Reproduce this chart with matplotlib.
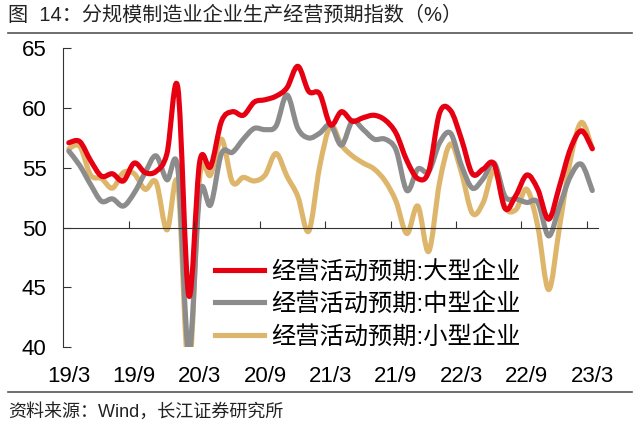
import numpy as np
import matplotlib.pyplot as plt
from matplotlib.path import Path
from matplotlib.patches import PathPatch
from matplotlib.lines import Line2D

plt.rcParams['font.family'] = ['Liberation Sans', 'Noto Sans CJK SC']

tick_labels = ['19/3', '19/9', '20/3', '20/9', '21/3', '21/9', '22/3', '22/9', '23/3']

large = [57.1, 57.2, 55.6, 54.3, 54.5, 53.9, 55.4, 54.6, 54.7, 56.2,
         61.7, 44.3, 55.5, 55.1, 58.9, 59.7, 59.4, 60.5, 60.7, 61.0,
         61.7, 63.5, 61.4, 61.2, 58.6, 59.7, 58.9, 59.2, 59.4, 59.0,
         57.9, 55.6, 54.1, 54.7, 59.6, 59.8, 57.4, 54.5, 54.9, 55.3,
         51.6, 52.7, 54.4, 53.2, 50.7, 53.5, 56.6, 58.1, 56.6]
medium = [56.4, 55.2, 53.6, 52.2, 52.4, 51.8, 52.9, 54.6, 56.0, 54.0,
          54.9, 39.5, 52.8, 51.9, 56.2, 56.3, 57.4, 58.3, 58.2, 58.5,
          61.1, 58.3, 57.5, 57.9, 58.6, 56.9, 58.9, 58.2, 57.4, 57.4,
          56.5, 53.1, 54.9, 54.7, 57.1, 57.9, 55.2, 53.3, 54.1, 55.4,
          52.6, 52.4, 52.1, 52.1, 49.3, 51.8, 54.3, 55.3, 53.1]
small = [56.6, 56.8, 54.4, 54.1, 53.3, 54.6, 54.5, 53.2, 53.8, 49.8,
         53.6, 38.0, 54.2, 54.4, 57.4, 53.8, 54.2, 53.9, 54.4, 56.2,
         54.3, 52.6, 49.7, 55.1, 58.5, 56.9, 56.0, 55.4, 54.9, 53.9,
         52.2, 49.5, 51.8, 48.0, 53.8, 57.0, 54.6, 51.2, 52.1, 54.8,
         51.7, 51.5, 53.2, 50.1, 44.8, 50.1, 55.7, 58.8, 56.6]

series_names = ['经营活动预期:大型企业', '经营活动预期:中型企业', '经营活动预期:小型企业']
colors = ['#E60012', '#8C8C8C', '#DDB66C']


def smooth_path(xs, ys):
    # excel-like smoothed line: bezier segments through every point
    p = np.column_stack([xs, ys]).astype(float)
    n = len(p)
    verts = [p[0]]
    codes = [Path.MOVETO]
    for i in range(n - 1):
        p0 = p[i - 1] if i > 0 else p[i]
        p3 = p[i + 2] if i + 2 < n else p[i + 1]
        c1 = p[i] + (p[i + 1] - p0) / 6
        c2 = p[i + 1] - (p3 - p[i]) / 6
        verts += [c1, c2, p[i + 1]]
        codes += [Path.CURVE4] * 3
    return Path(verts, codes)


fig = plt.figure(figsize=(6.4, 4.34), dpi=100)
ax = fig.add_axes([0.099, 0.2005, 0.835, 0.688])

x = np.arange(len(large))
for vals, c in zip([small, medium, large], colors[::-1]):
    patch = PathPatch(smooth_path(x, vals), fill=False, edgecolor=c, lw=3.7,
                      capstyle='round', joinstyle='round')
    ax.add_patch(patch)

ax.set_xlim(-0.5, len(large) - 0.5)
ax.set_ylim(40, 65)
ax.set_yticks([40, 45, 50, 55, 60, 65])
ax.tick_params(axis='y', direction='in', length=6, labelsize=16, pad=12, color='#333333')

ax.spines['top'].set_visible(False)
ax.spines['right'].set_visible(False)
ax.spines['left'].set_color('#333333')
ax.spines['bottom'].set_color('#333333')
ax.spines['bottom'].set_position(('data', 50))
ax.set_xticks(np.arange(5.5, len(large), 6))
ax.set_xticklabels([])
ax.tick_params(axis='x', direction='in', length=5, color='#333333')

sec = ax.secondary_xaxis(0)
sec.set_xticks(np.arange(0, len(large), 6), tick_labels)
sec.tick_params(length=0, labelsize=16, pad=14)
sec.spines['bottom'].set_visible(False)

handles = [Line2D([], [], color=c, lw=3.7) for c in colors]
ax.legend(handles, series_names, loc='upper left', bbox_to_anchor=(215 / 640, 1 - 260 / 434),
          bbox_transform=fig.transFigure, frameon=False, fontsize=17.5, borderpad=0,
          borderaxespad=0, handlelength=2.0, handletextpad=0.3, labelspacing=0.38)

fig.text(8 / 640, 1 - 15 / 434, '图  14：分规模制造业企业生产经营预期指数（%）', fontsize=14.5,
         va='center', ha='left', color='#222222')
fig.add_artist(Line2D([8 / 640, 632 / 640], [1 - 33 / 434, 1 - 33 / 434], color='#555555', lw=1.2))
fig.add_artist(Line2D([8 / 640, 632 / 640], [1 - 392 / 434, 1 - 392 / 434], color='#555555', lw=1.2))
fig.text(8 / 640, 1 - 412 / 434, '资料来源：Wind，长江证券研究所', fontsize=13,
         va='center', ha='left', color='#222222')

fig.savefig('out.png', dpi=100)
